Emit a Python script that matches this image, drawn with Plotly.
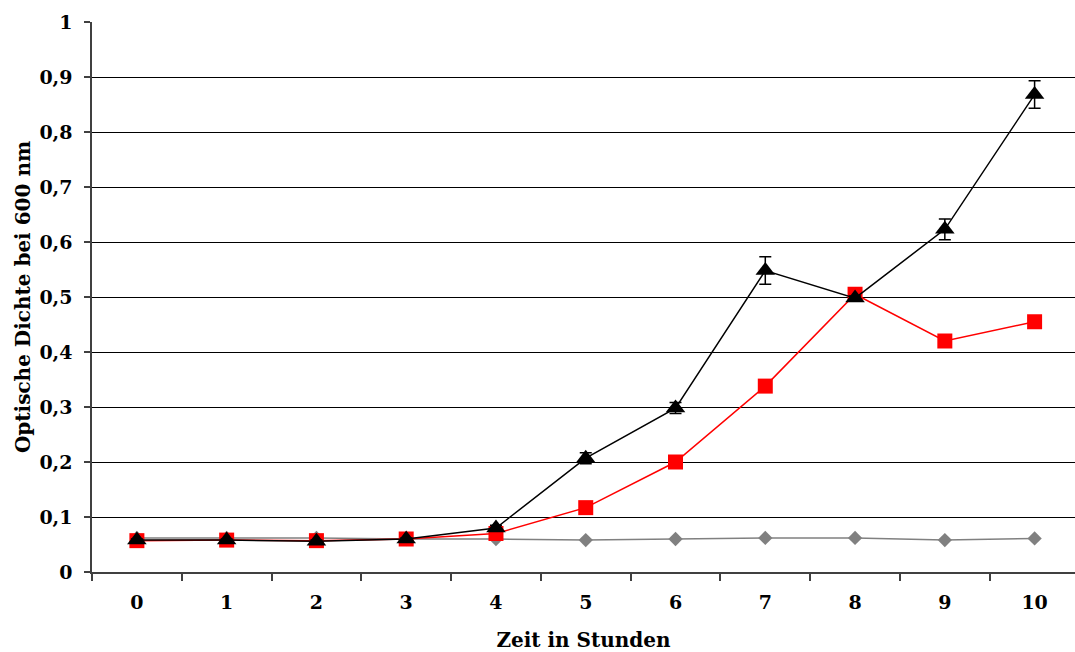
import plotly.graph_objects as go

# Zeitpunkte (Stunden)
stunden = ["0", "1", "2", "3", "4", "5", "6", "7", "8", "9", "10"]

# Optische Dichte (OD600) der drei Kulturen
od_grau = [0.062, 0.062, 0.062, 0.060, 0.060, 0.058, 0.060, 0.062, 0.062, 0.058, 0.061]
od_rot = [0.057, 0.058, 0.057, 0.060, 0.070, 0.117, 0.200, 0.338, 0.505, 0.420, 0.455]
od_schwarz = [0.058, 0.058, 0.056, 0.060, 0.080, 0.207, 0.298, 0.548, 0.498, 0.623, 0.868]
fehler_schwarz = [0.002, 0.002, 0.002, 0.002, 0.005, 0.010, 0.010, 0.025, 0.004, 0.019, 0.025]

fig = go.Figure()

fig.add_trace(go.Scatter(
    x=stunden, y=od_grau, mode="lines+markers",
    line=dict(color="#808080", width=1.5),
    marker=dict(symbol="diamond", size=11, color="#808080"),
    showlegend=False,
))
fig.add_trace(go.Scatter(
    x=stunden, y=od_rot, mode="lines+markers",
    line=dict(color="#ff0000", width=1.5),
    marker=dict(symbol="square", size=15, color="#ff0000"),
    showlegend=False,
))
fig.add_trace(go.Scatter(
    x=stunden, y=od_schwarz, mode="lines+markers",
    line=dict(color="#000000", width=1.5),
    marker=dict(symbol="triangle-up", size=17, color="#000000"),
    error_y=dict(type="data", array=fehler_schwarz, color="#000000",
                 thickness=1.5, width=6),
    showlegend=False,
))

fig.update_layout(
    width=1075, height=652,
    margin=dict(l=92, r=0, t=22, b=80),
    paper_bgcolor="white", plot_bgcolor="white",
    separators=", ",
    font=dict(family="DejaVu Serif", size=19, color="#000000"),
    xaxis=dict(
        type="category",
        range=[-0.5, 10.45],
        tickson="boundaries",
        ticks="outside", ticklen=7, tickcolor="#404040", tickwidth=1.5,
        showline=True, linecolor="#404040", linewidth=1.5,
        showgrid=False, zeroline=False,
        ticklabelstandoff=12,
        tickfont=dict(family="DejaVu Serif", size=19, weight="bold", color="#000000"),
        title=dict(text="<b>Zeit in Stunden</b>", standoff=24,
                   font=dict(family="DejaVu Serif", size=20, color="#000000")),
    ),
    yaxis=dict(
        range=[0, 1], dtick=0.1, tick0=0,
        ticks="outside", ticklen=6, tickcolor="#404040", tickwidth=1.5,
        showline=True, linecolor="#404040", linewidth=1.5,
        showgrid=True, gridcolor="#000000", gridwidth=1,
        zeroline=False,
        ticklabelstandoff=8,
        tickfont=dict(family="DejaVu Serif", size=19, weight="bold", color="#000000"),
        title=dict(text="<b>Optische Dichte bei 600 nm</b>", standoff=3,
                   font=dict(family="DejaVu Serif", size=20, color="#000000")),
    ),
)

fig.write_html("out.html")
